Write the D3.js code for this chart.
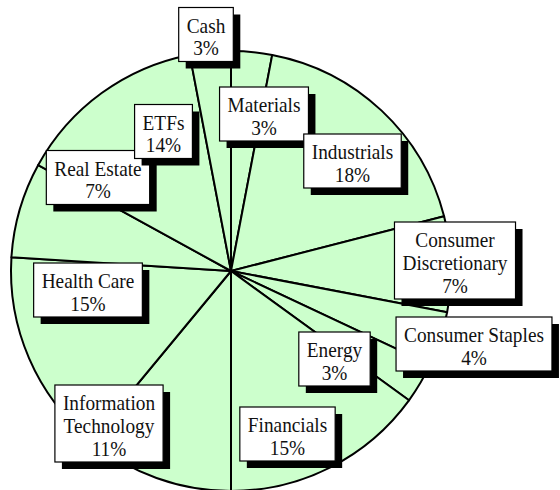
<!DOCTYPE html>
<html>
<head>
<meta charset="utf-8">
<script src="https://cdn.jsdelivr.net/npm/d3@7"></script>
<style>
  body{margin:0;background:#fff;}
  svg{display:block;}
</style>
</head>
<body>
<div id="chart-area"></div>
<script>
// sectors, clockwise from 12 o'clock
var sectors=["Materials","Industrials","Consumer Discretionary","Consumer Staples","Energy",
             "Financials","Information Technology","Health Care","Real Estate","ETFs","Cash"];
var shares=[3,18,7,4,3,15,11,15,7,14,3];
// how each label is broken into lines
var labelLines=[["Materials"],["Industrials"],["Consumer","Discretionary"],["Consumer Staples"],["Energy"],
                ["Financials"],["Information","Technology"],["Health Care"],["Real Estate"],["ETFs"],["Cash"]];

// label box centres, relative to pie centre (hand placed like the original)
var labelPos=[[33,-157],[121.5,-110],[224,-10.5],[243,73],[103.5,88],
              [56.5,163],[-122,152.5],[-143,19],[-133,-93.5],[-67.5,-139.5],[-25,-236.5]];
// drawing order of the boxes (later ones on top)
var drawOrder=[10,8,9,0,1,2,7,3,4,5,6];

var width=560, height=490;
var cx=231, cy=271, radius=220;

var svg=d3.select("#chart-area").append("svg")
    .attr("width",width)
    .attr("height",height);

var g=svg.append("g")
    .attr("transform","translate("+cx+","+cy+")");

var pie=d3.pie()
    .sort(null)
    .value((d)=>{return d;});

var arc=d3.arc()
    .innerRadius(0)
    .outerRadius(radius);

var arcs=pie(shares);

g.selectAll("path.slice")
    .data(arcs)
    .enter().append("path")
    .attr("class","slice")
    .attr("d",arc)
    .attr("fill","#ccffcc")
    .attr("stroke","#000")
    .attr("stroke-width",2)
    .attr("stroke-linejoin","round");

// labels (the original font is a bit condensed, so squeeze x)
var fontSize=21, squeeze=0.92, lineH=23, padX=8;
var labels=g.append("g")
    .attr("font-family","'Liberation Serif','Times New Roman',serif")
    .attr("font-size",fontSize+"px");

drawOrder.forEach((i)=>{
    var lines=labelLines[i].concat([shares[i]+"%"]);
    var lg=labels.append("g")
        .attr("transform","translate("+labelPos[i][0]+","+labelPos[i][1]+")");

    var shadow=lg.append("rect").attr("fill","#000");
    var box=lg.append("rect")
        .attr("fill","#fff")
        .attr("stroke","#000")
        .attr("stroke-width",1.2);

    var h=lines.length*lineH+8;
    var txt=lg.append("text")
        .attr("text-anchor","middle")
        .attr("transform","scale("+squeeze+",1)")
        .attr("fill","#111");
    lines.forEach((s,k)=>{
        txt.append("tspan")
            .attr("x",0)
            .attr("y",-h/2+25+k*lineH)
            .text(s);
    });

    var w=0;
    txt.selectAll("tspan").each(function(){
        w=Math.max(w,this.getComputedTextLength()*squeeze);
    });
    w=w+padX*2;

    box.attr("x",-w/2).attr("y",-h/2).attr("width",w).attr("height",h);
    shadow.attr("x",-w/2+7).attr("y",-h/2+7).attr("width",w).attr("height",h);
});
</script>
</body>
</html>
